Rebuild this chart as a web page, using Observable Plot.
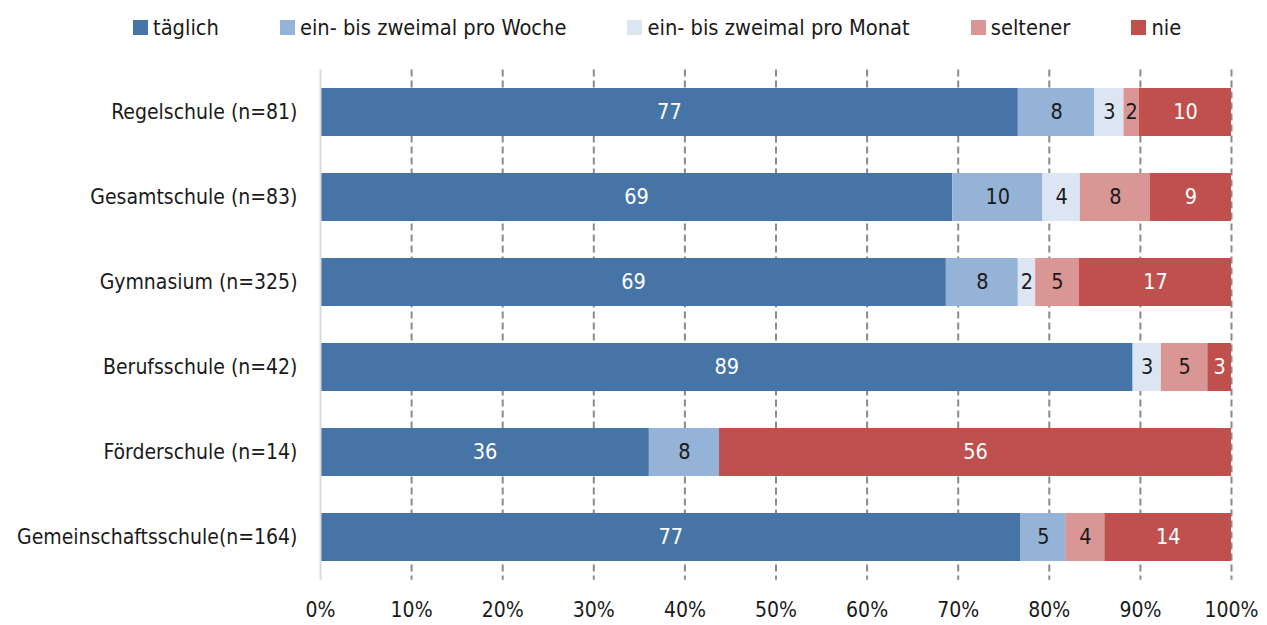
<!DOCTYPE html>
<html>
<head>
<meta charset="utf-8">
<script src="https://cdn.jsdelivr.net/npm/d3@7"></script>
<script src="https://cdn.jsdelivr.net/npm/@observablehq/plot@0.6"></script>
<style>
  html, body { margin: 0; padding: 0; background: #fff; }
  body { width: 1267px; height: 625px; overflow: hidden; font-family: "DejaVu Sans Condensed", "Liberation Sans Narrow", "Roboto", sans-serif; color: #1a1a1a; }
  #legend { height: 50px; display: flex; align-items: center; padding-left: 133px; padding-top: 4px; box-sizing: border-box; font-size: 21.7px; }
  .item { display: flex; align-items: center; margin-right: 61px; }
  .sw { width: 15px; height: 15px; margin-right: 5px; }
  svg { display: block; }
</style>
</head>
<body>
<div id="legend"></div>
<div id="chart"></div>
<script>
const categories = ["Regelschule (n=81)", "Gesamtschule (n=83)", "Gymnasium (n=325)", "Berufsschule (n=42)", "Förderschule (n=14)", "Gemeinschaftsschule(n=164)"];
const seriesNames = ["täglich", "ein- bis zweimal pro Woche", "ein- bis zweimal pro Monat", "seltener", "nie"];
const colors = ["#4674a7", "#95b3d7", "#dce6f2", "#d99694", "#c0504d"];
const labelColors = ["#ffffff", "#1a1a1a", "#1a1a1a", "#1a1a1a", "#ffffff"];
const taeglich = [76.6, 69.4, 68.7, 89.2, 36.1, 76.9];
const woche = [8.4, 9.9, 7.9, 0, 7.7, 4.9];
const monat = [3.2, 4.1, 1.9, 3.1, 0, 0];
const seltener = [1.7, 7.7, 4.8, 5.1, 0, 4.3];
const nie = [10.1, 8.9, 16.7, 2.6, 56.2, 13.9];
const xTicks = [0, 10, 20, 30, 40, 50, 60, 70, 80, 90, 100];

const seriesValues = [taeglich, woche, monat, seltener, nie];
const data = [];
categories.forEach((c, i) => {
  seriesNames.forEach((s, j) => {
    const v = seriesValues[j][i];
    if (v > 0) data.push({school: c, series: s, value: v, label: String(Math.round(v)), labelColor: labelColors[j]});
  });
});

// legend
const legend = document.getElementById("legend");
seriesNames.forEach((s, j) => {
  const it = document.createElement("div");
  it.className = "item";
  const sw = document.createElement("div");
  sw.className = "sw";
  sw.style.background = colors[j];
  const t = document.createElement("span");
  t.textContent = s;
  it.appendChild(sw); it.appendChild(t);
  legend.appendChild(it);
});

const fontFamily = '"DejaVu Sans Condensed", "Liberation Sans Narrow", "Roboto", sans-serif';

const chart = Plot.plot({
  width: 1267,
  height: 575,
  marginTop: 19.5,
  marginBottom: 45.2,
  marginLeft: 320,
  marginRight: 36,
  style: {fontFamily, fontSize: "21px", color: "#1a1a1a", background: "#fff"},
  x: {domain: [0, 100], ticks: xTicks, tickFormat: d => d + "%", tickSize: 0, tickPadding: 22, label: null},
  y: {domain: categories, paddingInner: 0.436, paddingOuter: 0.218, align: 0.5, tickSize: 0, tickPadding: 23, label: null},
  color: {domain: seriesNames, range: colors},
  marks: [
    Plot.ruleX(xTicks.filter(d => d > 0), {stroke: "#8a8a8a", strokeWidth: 2, strokeDasharray: "7,4"}),
    Plot.barX(data, Plot.stackX({x: "value", y: "school", fill: "series", order: seriesNames})),
    Plot.text(data, Plot.stackX({x: "value", y: "school", z: "series", order: seriesNames, text: "label", fill: "labelColor", fontSize: 21.5})),
    Plot.ruleX([0], {stroke: "#d9d9d9", strokeWidth: 2})
  ]
});
document.getElementById("chart").appendChild(chart);
</script>
</body>
</html>
